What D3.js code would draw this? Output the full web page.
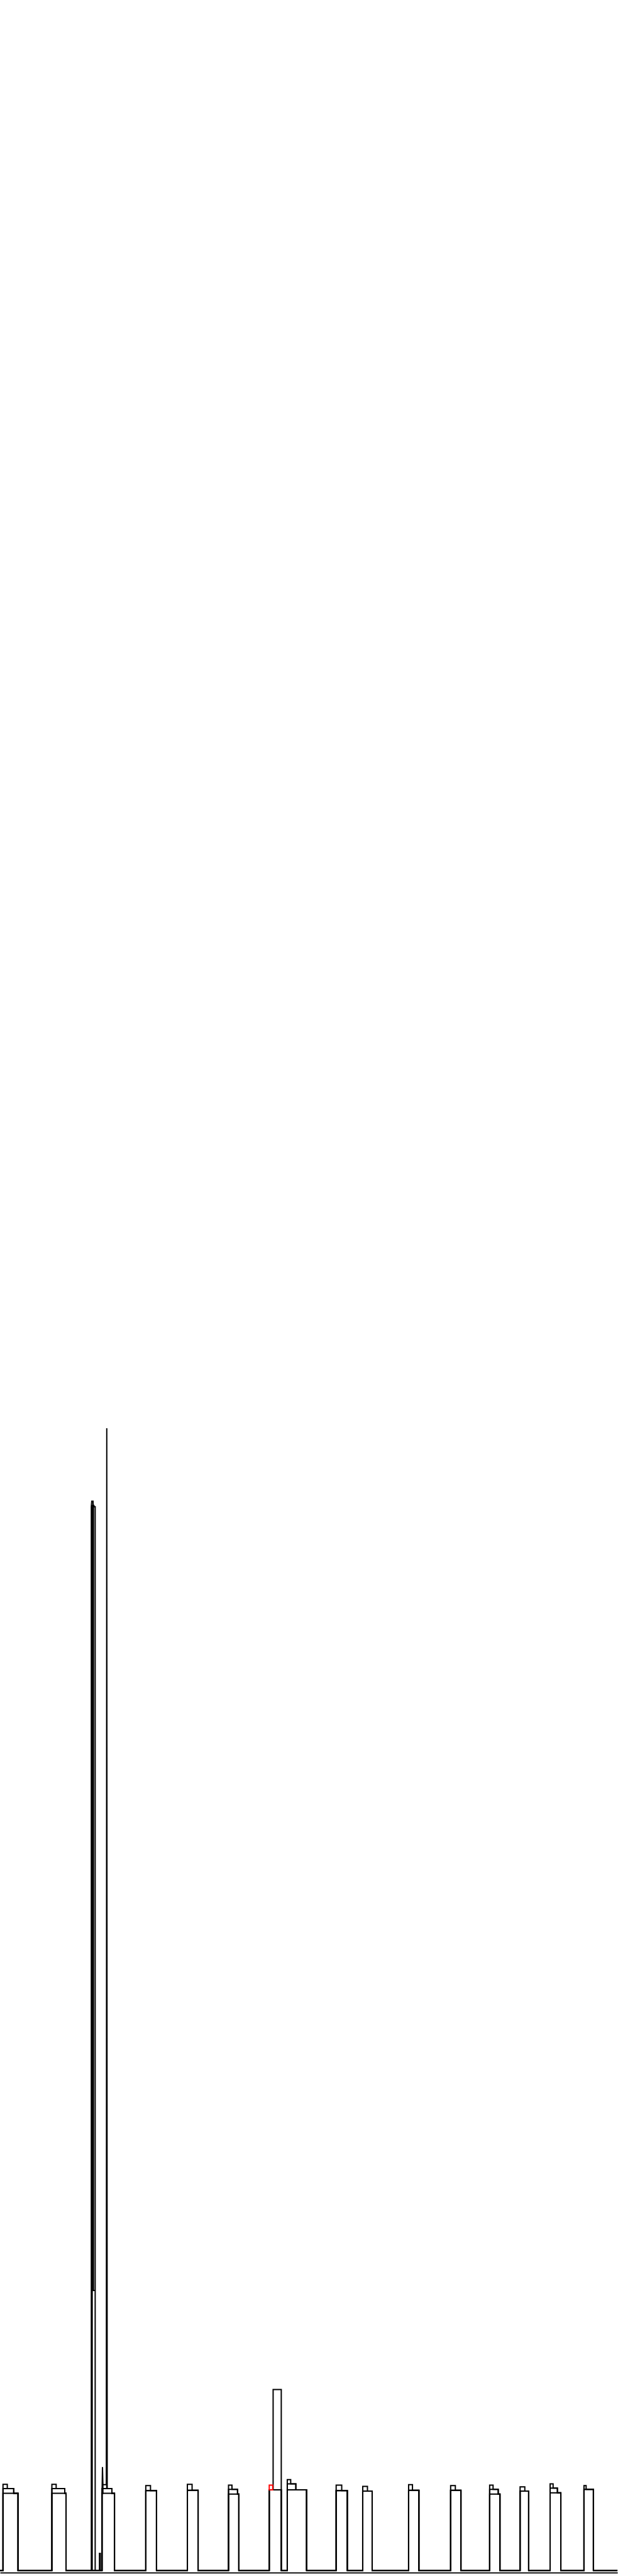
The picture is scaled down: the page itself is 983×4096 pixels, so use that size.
<!DOCTYPE html>
<html>
<head>
<meta charset="utf-8">
<script src="https://cdn.jsdelivr.net/npm/d3@7"></script>
<style>
  html, body { margin: 0; padding: 0; background: #fff; }
  svg { display: block; }
</style>
</head>
<body>
<script>
// ---- data (x = minute of day, value = level) ----
const towerStart = [7, 121, 238, 340, 437, 533, 628, 670, 784, 846, 953, 1051, 1142, 1213, 1283, 1362];
const towerEnd   = [42, 154, 267, 365, 462, 557, 656, 715, 810, 868, 977, 1075, 1166, 1233, 1308, 1384];
const baseValue  = [180, 180, 180, 186, 187, 178, 188, 188, 186, 185, 187, 187, 178, 185, 181, 189];
const midValue   = [191, 191, 191, 0, 0, 189, 0, 202, 0, 0, 0, 0, 189, 0, 192, 0];
const midEnd     = [32, 151, 261, 0, 0, 554, 0, 690, 0, 0, 0, 0, 1162, 0, 1300, 0];
const peakStart  = [7, 121, 240, 340, 437, 533, 637, 670, 784, 846, 953, 1051, 1142, 1213, 1283, 1362];
const peakValue  = [201, 201, 200, 198, 201, 199, 422, 212, 199, 196, 200, 198, 199, 195, 202, 198];
const peakEnd    = [17, 131, 249, 351, 448, 541, 656, 678, 797, 857, 962, 1062, 1150, 1224, 1290, 1367];

const narrowMinutes = [213, 213, 214, 217, 217, 219, 219, 222, 222];
const narrowValues  = [0, 2480, 2493, 2493, 2483, 2483, 2480, 2480, 0];
const innerMinutes  = [215, 215, 218, 218, 222];
const innerValues   = [0, 2483, 2483, 653, 653];
const thinMinutes   = [248, 249, 250];
const thinValues    = [200, 2663, 191];
const leftMinutes   = [238, 239, 240];
const leftValues    = [180, 241, 200];
const smallMinutes  = [232, 232, 234, 234];
const smallValues   = [0, 40, 40, 0];

const redMinutes = [628, 636];
const redLow = 188;
const redHigh = 199;

const dayStart = 0, dayEnd = 1440;
const baselineTop = 5993;   // value extent mapped to page height
const axisValue = -5;

// ---- layout ----
const S = 0.682;
const W = 983, H = 4096;

const svg = d3.select("body").append("svg")
  .attr("width", W).attr("height", H);

const x = d3.scaleLinear().domain([dayStart, dayEnd]).range([0, dayEnd * S]);
const y = d3.scaleLinear().domain([0, baselineTop]).range([baselineTop * S, 0]);

const line = d3.line().x(d => x(d[0])).y(d => y(d[1]));

// bottom layer
const seriesA = [[dayStart, 0]];
towerStart.forEach((s, i) => {
  const e = towerEnd[i], b = baseValue[i];
  seriesA.push([s, 0], [s, b], [e, b], [e, 0]);
});
seriesA.push([dayEnd, 0]);

// middle layer
const seriesB = [[dayStart, 0]];
towerStart.forEach((s, i) => {
  const e = towerEnd[i], b = baseValue[i];
  if (midValue[i] > 0) {
    seriesB.push([s, 0], [s, midValue[i]], [midEnd[i], midValue[i]], [midEnd[i], b], [e, b], [e, 0]);
  } else {
    seriesB.push([s, 0], [s, b], [e, b], [e, 0]);
  }
});
seriesB.push([dayEnd, 0]);

// total outline
const seriesC = [[dayStart, 0]];
towerStart.forEach((s, i) => {
  const e = towerEnd[i], b = baseValue[i], p = peakValue[i], ps = peakStart[i], pe = peakEnd[i];
  seriesC.push([s, 0]);
  if (ps > s) seriesC.push([s, b], [ps, b], [ps, p]);
  else seriesC.push([s, p]);
  seriesC.push([pe, p]);
  if (pe < e) {
    if (midValue[i] > 0) seriesC.push([pe, midValue[i]], [midEnd[i], midValue[i]], [midEnd[i], b]);
    else seriesC.push([pe, b]);
    seriesC.push([e, b]);
  }
  seriesC.push([e, 0]);
});
seriesC.push([dayEnd, 0]);

const zip = (ms, vs) => ms.map((m, i) => [m, vs[i]]);

const g = svg.append("g");
const paths = [seriesA, seriesB, seriesC,
  zip(narrowMinutes, narrowValues), zip(innerMinutes, innerValues),
  zip(thinMinutes, thinValues), zip(leftMinutes, leftValues), zip(smallMinutes, smallValues)];

g.selectAll("path.series").data(paths).join("path")
  .attr("class", "series")
  .attr("d", line)
  .attr("fill", "none")
  .attr("stroke", "#000")
  .attr("stroke-width", 2)
  .attr("stroke-linejoin", "miter");

// highlighted layer
const area = d3.area().x(d => x(d)).y0(y(redLow)).y1(y(redHigh));
g.append("path")
  .attr("d", area(redMinutes))
  .attr("fill", "none")
  .attr("stroke", "#ff0000")
  .attr("stroke-width", 2);

// bottom axis line
const axis = d3.axisBottom(x).tickValues([]).tickSizeOuter(0);
const ax = svg.append("g").attr("transform", `translate(0,${y(axisValue)})`).call(axis);
ax.select(".domain").attr("stroke", "#000").attr("stroke-width", 1.7);
</script>
</body>
</html>
